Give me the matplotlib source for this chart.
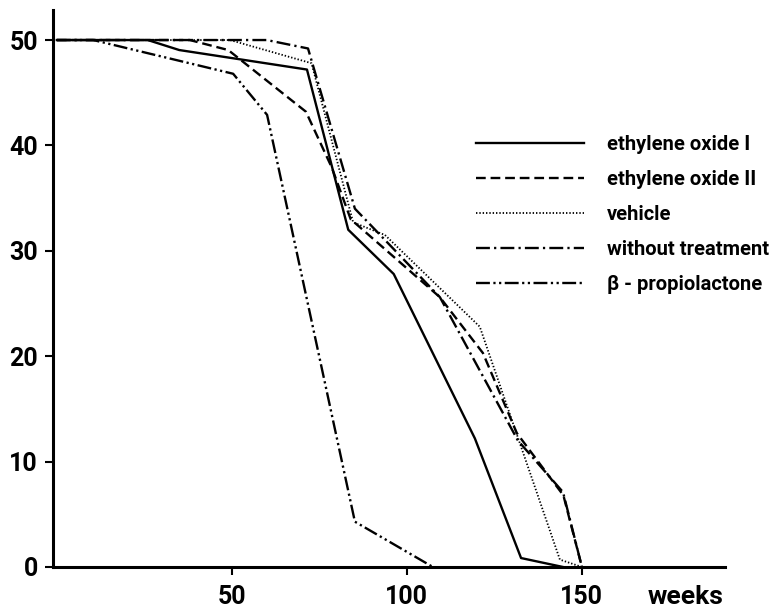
import numpy as np
import matplotlib
matplotlib.use('Agg')
import matplotlib.pyplot as plt

plt.rcParams['font.family'] = ['Roboto', 'DejaVu Sans']
plt.rcParams['lines.scale_dashes'] = False

# survival curves (weeks, number of animals alive)
eo1_weeks = [0, 26, 35, 71.5, 83.3, 96.3, 119.5, 132.7, 144.7]
eo1_alive = [50, 50, 49.05, 47.2, 32.0, 27.8, 12.2, 0.85, 0]

eo2_weeks = [0, 38, 49, 71.2, 78.6, 84, 109.5, 121.8, 131.5, 144.8, 150.1]
eo2_alive = [50, 50, 49.05, 43.2, 37.9, 33.0, 25.6, 20.3, 12.7, 6.8, 0]

veh_weeks = [0, 49.5, 72.8, 84.7, 93.8, 120.9, 143.8, 150.1]
veh_alive = [50, 50, 47.8, 32.7, 31.5, 22.8, 0.7, 0]

untr_weeks = [0, 60, 71.8, 85.2, 109.5, 131.8, 144.7, 150.1]
untr_alive = [50, 50, 49.2, 34.0, 25.6, 12.0, 7.1, 0]

bpl_weeks = [0, 10.4, 50.4, 60.1, 85.2, 107.5]
bpl_alive = [50, 50, 46.8, 42.9, 4.3, 0]

labels = ['ethylene oxide I', 'ethylene oxide II', 'vehicle',
          'without treatment', '\u03b2 - propiolactone']

fig = plt.figure(figsize=(7.83, 6.09), dpi=100)
ax = fig.add_axes([53 / 783, 42 / 609, (725 - 53) / 783, (567 - 10) / 609])

ax.plot(eo1_weeks, eo1_alive, color='black', lw=1.7, ls='-', label=labels[0])
ax.plot(eo2_weeks, eo2_alive, color='black', lw=1.7, dashes=(7, 3.5), label=labels[1])
ax.plot(veh_weeks, veh_alive, color='black', lw=1.3, dashes=(1.0, 1.4), label=labels[2])
ax.plot(untr_weeks, untr_alive, color='black', lw=1.7,
        dashes=(10, 3, 1.6, 3), label=labels[3])
ax.plot(bpl_weeks, bpl_alive, color='black', lw=1.7,
        dashes=(10, 2.5, 1.6, 2.5, 1.6, 2.5), label=labels[4])

ax.set_xlim(-1.1, 191)
ax.set_ylim(0, 52.85)
ax.set_xticks([50, 100, 150])
ax.set_yticks([0, 10, 20, 30, 40, 50])

for side in ['top', 'right']:
    ax.spines[side].set_visible(False)
for side in ['left', 'bottom']:
    ax.spines[side].set_linewidth(2.2)
ax.tick_params(axis='both', direction='out', length=6, width=1.5,
               labelsize=18, pad=5)
ax.tick_params(axis='x', pad=7)
for t in ax.get_xticklabels() + ax.get_yticklabels():
    t.set_fontweight('bold')

fig.text(648 / 783, 1 - 597 / 609, 'weeks', fontsize=19, fontweight='bold',
         ha='left', va='center')

leg = ax.legend(loc='upper left', bbox_to_anchor=(476 / 783, 1 - 135 / 609),
                bbox_transform=fig.transFigure, frameon=False, fontsize=14.5,
                handlelength=5.36, handletextpad=1.14, labelspacing=0.79,
                borderpad=0, borderaxespad=0)
for t in leg.get_texts():
    t.set_fontweight('bold')

fig.savefig('out.png', dpi=100)
